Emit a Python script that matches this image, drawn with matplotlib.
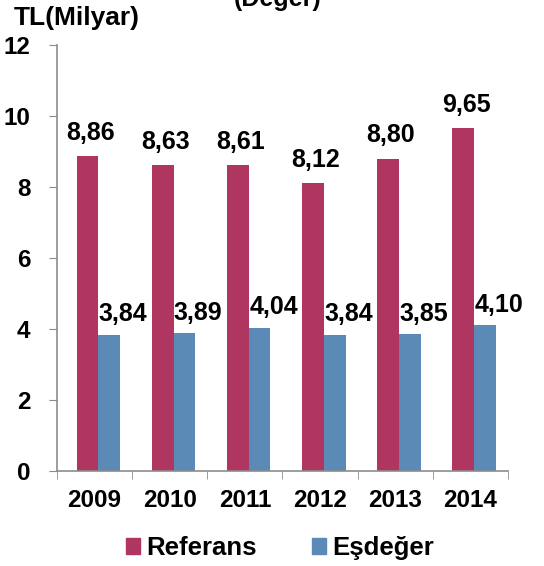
import matplotlib
matplotlib.use('Agg')
import matplotlib.pyplot as plt
from matplotlib.patches import Patch
import numpy as np

years = ['2009', '2010', '2011', '2012', '2013', '2014']
referans = [8.86, 8.63, 8.61, 8.12, 8.80, 9.65]
esdeger = [3.84, 3.89, 4.04, 3.84, 3.85, 4.10]
yticks = [0, 2, 4, 6, 8, 10, 12]

red = '#AF3660'
blue = '#5B8AB7'
gray = '#8C8C8C'

plt.rcParams['font.family'] = ['Liberation Sans', 'DejaVu Sans']
plt.rcParams['font.weight'] = 'bold'

fig = plt.figure(figsize=(5.44, 5.66), dpi=100)
ax = fig.add_axes([57 / 544, 1 - 471 / 566, 451 / 544, 426 / 566])

x = np.arange(len(years))
w = 0.29
shift = 0.05
b1 = ax.bar(x - w / 2 + shift, referans, w, color=red, label='Referans')
b2 = ax.bar(x + w / 2 + shift, esdeger, w, color=blue, label='Eşdeğer')

for rect, v in zip(b1, referans):
    ax.annotate(f'{v:.2f}'.replace('.', ','),
                (rect.get_x() + rect.get_width() / 2, v),
                xytext=(2, 8), textcoords='offset points',
                ha='center', va='bottom', fontsize=18, fontweight='bold')
for rect, v in zip(b2, esdeger):
    ax.annotate(f'{v:.2f}'.replace('.', ','),
                (rect.get_x() + rect.get_width() / 2, v),
                xytext=(10, 6), textcoords='offset points',
                ha='center', va='bottom', fontsize=18, fontweight='bold')

ax.set_xlim(-0.5, len(years) - 0.5)
ax.set_ylim(0, 12)
ax.set_yticks(yticks)
ax.set_yticklabels([str(t) for t in yticks], fontsize=17.5, fontweight='bold')

ax.set_xticks(x)
ax.set_xticklabels(years, fontsize=17.5, fontweight='bold')
ax.tick_params(axis='x', which='major', length=0, pad=13)
ax.set_xticks(np.arange(-0.5, len(years)), minor=True)
ax.tick_params(axis='x', which='minor', length=6, color=gray, direction='out')
ax.tick_params(axis='y', length=6, color=gray, direction='out', pad=13)

for s in ['top', 'right']:
    ax.spines[s].set_visible(False)
for s in ['left', 'bottom']:
    ax.spines[s].set_color(gray)
    ax.spines[s].set_linewidth(1.2)

fig.text(14 / 544, 1 - 25 / 566, 'TL(Milyar)', fontsize=19, fontweight='bold',
         ha='left', va='baseline')
fig.text(278 / 544, 1 - 6 / 566, '(Değer)', fontsize=18, fontweight='bold',
         ha='center', va='baseline')

handles = [Patch(color=red, label='Referans'), Patch(color=blue, label='Eşdeğer')]
fig.legend(handles=handles, loc='center', bbox_to_anchor=(280 / 544, 1 - 548 / 566),
           ncol=2, frameon=False, handlelength=0.55, handleheight=0.55,
           handletextpad=0.25, columnspacing=2.15, prop={'weight': 'bold', 'size': 18.5})

fig.savefig('out.png', dpi=100)
